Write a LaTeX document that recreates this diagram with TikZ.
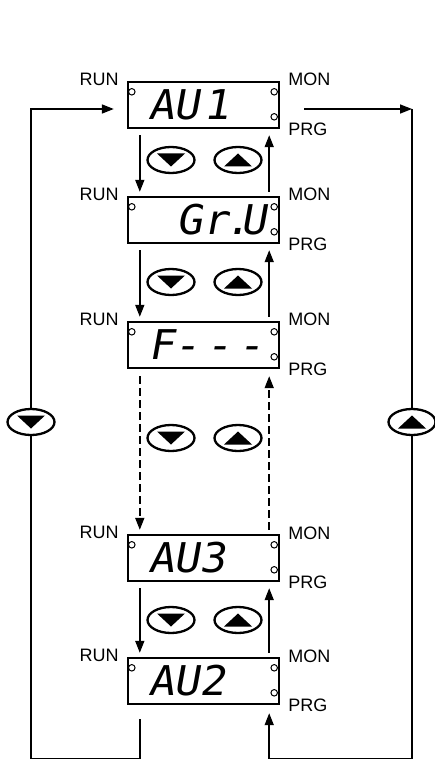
\documentclass[tikz,border=0pt]{standalone}
\usepackage{fontspec}
\setmainfont{Liberation Sans}
\newfontfamily\segfont{DejaVu Sans Mono}[FakeSlant=0.18,FakeStretch=1.05]
\usetikzlibrary{shapes.geometric,arrows.meta}

\begin{document}
\begin{tikzpicture}[x=1pt,y=-1pt,font=\fontsize{18}{21}\selectfont,
  disp/.style={draw,line width=2.4pt,minimum width=151pt,minimum height=46pt,inner sep=0pt},
  seg/.style={font=\fontsize{41}{41}\segfont,inner sep=0pt},
  lbl/.style={inner sep=0pt},
  lamp/.style={draw,circle,line width=1pt,minimum size=6.5pt,inner sep=0pt},
  btn/.style={draw,ellipse,line width=2.3pt,fill=white,minimum width=47pt,minimum height=26pt,inner sep=0pt},
  arr/.style={-{Triangle[length=12pt,width=9pt]},line width=1.6pt},
  ln/.style={line width=1.6pt},
  dsh/.style={dash pattern=on 8pt off 4pt}]
\useasboundingbox (0,0) rectangle (435,759);

\node[disp] (d1) at (203.5,105) {};
\node[disp] (d2) at (203.5,220) {};
\node[disp] (d3) at (203.5,345) {};
\node[disp] (d4) at (203.5,558) {};
\node[disp] (d5) at (203.5,681) {};

\node[seg,anchor=west] (t1) at ([xshift=21pt]d1.west) {AU\kern4pt 1};
\node[seg,anchor=east] (t2) at ([xshift=-14pt]d2.east) {Gr\kern-4pt.\kern-10pt U};
\node[seg,anchor=west] (t3) at ([xshift=21pt]d3.west) {F-\kern6pt-\kern6pt-};
\node[seg,anchor=west] (t4) at ([xshift=21pt]d4.west) {AU3};
\node[seg,anchor=west] (t5) at ([xshift=21pt]d5.west) {AU2};

\foreach \d in {d1,d2,d3,d4,d5}{
  \node[lbl,anchor=east] (r\d) at ([xshift=-8pt,yshift=1pt]\d.north west) {RUN};
  \node[lbl,anchor=west] (m\d) at ([xshift=8pt,yshift=1pt]\d.north east) {MON};
  \node[lbl,anchor=west] (p\d) at ([xshift=8pt]\d.south east) {PRG};
  \node[lamp] (l\d) at ([xshift=5pt,yshift=-11pt]\d.north west) {};
  \node[lamp] (a\d) at ([xshift=-6pt,yshift=-11pt]\d.north east) {};
  \node[lamp] (b\d) at ([xshift=-6pt,yshift=-36pt]\d.north east) {};
}

\node[btn] (k1) at (171,160) {}; \node[btn] (u1) at (238,160) {};
\node[btn] (k2) at (171,282) {}; \node[btn] (u2) at (238,282) {};
\node[btn] (k3) at (171,438) {}; \node[btn] (u3) at (238,438) {};
\node[btn] (k4) at (171,620) {}; \node[btn] (u4) at (238,620) {};
\node[btn] (sl) at (31,422) {};  \node[btn] (sr) at (412,422) {};
\foreach \k in {k1,k2,k3,k4,sl}
  \fill ([xshift=-14pt,yshift=6.5pt]\k.center) -- ++(28pt,0pt) -- ++(-14pt,-13pt) -- cycle;
\foreach \k in {u1,u2,u3,u4,sr}
  \fill ([xshift=-14pt,yshift=-6.5pt]\k.center) -- ++(28pt,0pt) -- ++(-14pt,13pt) -- cycle;

\coordinate (bl) at (31,758.5); \coordinate (br) at (412,758.5); \coordinate (tr) at (412,109);

\foreach \a/\b in {d1/d2,d2/d3,d4/d5}{
  \draw[arr] ([xshift=13pt,yshift=-6pt]\a.south west) -- ([xshift=13pt,yshift=4pt]\b.north west);
  \draw[arr] ([xshift=-11pt,yshift=4pt]\b.north east) -- ([xshift=-11pt,yshift=-6pt]\a.south east);
}
\draw[arr,dsh] ([xshift=13pt,yshift=-7pt]d3.south west) -- ([xshift=13pt,yshift=4pt]d4.north west);
\draw[arr,dsh] ([xshift=-11pt,yshift=4pt]d4.north east) -- ([xshift=-11pt,yshift=-7pt]d3.south east);

\draw[ln] ([xshift=13pt,yshift=-14pt]d5.south west) |- (bl) -- (sl.south);
\draw[arr] (sl.north) |- ([xshift=-13pt,yshift=-4pt]d1.west);
\draw[arr] ([xshift=24pt,yshift=-4pt]d1.east) -- (tr);
\draw[ln] (tr) -- (sr.north);
\draw[arr] (sr.south) -- (br) -| ([xshift=-11pt,yshift=-8pt]d5.south east);
\end{tikzpicture}
\end{document}
